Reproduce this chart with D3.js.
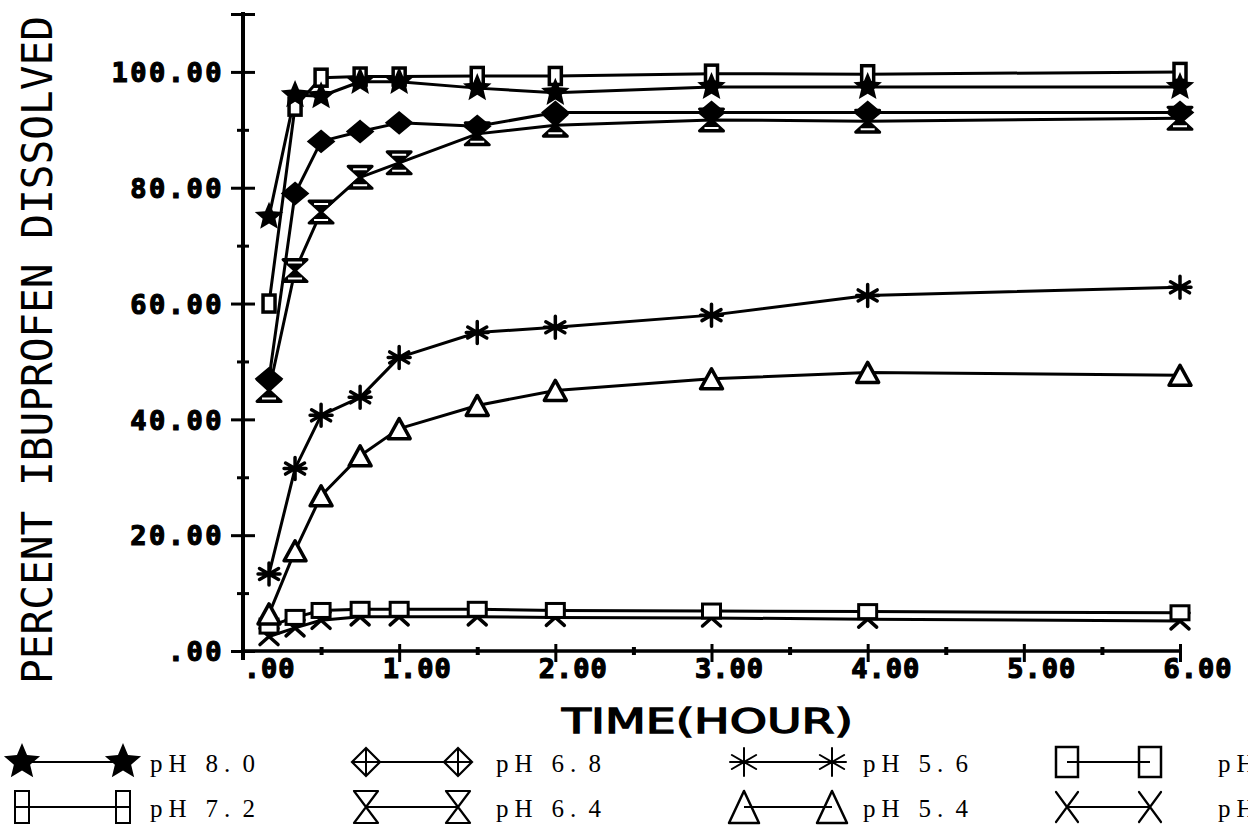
<!DOCTYPE html>
<html>
<head>
<meta charset="utf-8">
<script src="https://cdn.jsdelivr.net/npm/d3@7"></script>
<style>
  body { margin: 0; background: #fff; }
  svg { display: block; }
</style>
</head>
<body>
<script>
// sampling times (hours)
const times = [1/6, 1/3, 0.5, 0.75, 1, 1.5, 2, 3, 4, 6];

// percent dissolved
const ph80 = [75.0, 96.0, 95.8, 98.3, 98.3, 97.2, 96.4, 97.4, 97.4, 97.4];
const ph72 = [60.0, 94.0, 99.0, 99.2, 99.2, 99.3, 99.3, 99.7, 99.6, 100.0];
const ph68 = [47.0, 79.0, 88.0, 89.7, 91.2, 90.6, 93.0, 93.0, 93.0, 93.0];
const ph64 = [45.0, 65.7, 75.8, 81.8, 84.3, 89.3, 90.8, 91.7, 91.5, 92.0];
const ph56 = [13.3, 31.5, 40.7, 43.8, 50.7, 55.0, 55.9, 58.0, 61.4, 62.8];
const ph54 = [6.4, 17.3, 26.8, 33.7, 38.4, 42.4, 45.0, 47.0, 48.1, 47.6];
const phSq = [4.3, 5.8, 7.0, 7.2, 7.2, 7.2, 7.0, 6.9, 6.8, 6.6];
const phX  = [2.5, 4.0, 5.3, 5.9, 5.9, 5.9, 5.8, 5.7, 5.5, 5.2];

// legend text (last column is cut off at the page edge, as in the original)
const legendLabels = ["pH 8.0", "pH 6.8", "pH 5.6", "pH", "pH 7.2", "pH 6.4", "pH 5.4", "pH"];

const yTicks = [0, 10, 20, 30, 40, 50, 60, 70, 80, 90, 100, 110];
const xTicks = [0.5, 1, 1.5, 2, 2.5, 3, 3.5, 4, 4.5, 5, 5.5, 6];

const series = [
  { values: ph80, marker: "star" },
  { values: ph72, marker: "rect" },
  { values: ph68, marker: "diamond" },
  { values: ph64, marker: "hourglass" },
  { values: ph56, marker: "asterisk" },
  { values: ph54, marker: "triangle" },
  { values: phSq, marker: "square" },
  { values: phX,  marker: "cross" }
];

const width = 1248, height = 830;
const svg = d3.select("body").append("svg")
  .attr("width", width)
  .attr("height", height);

const x = d3.scaleLinear().domain([0, 6]).range([243, 1180]);
const y = d3.scaleLinear().domain([0, 110]).range([651, 14]);

const fmt = d => d3.format(".2f")(d).replace(/^0\./, ".");

// ---- y axis
const yAxis = svg.append("g")
  .attr("transform", "translate(243,0)")
  .call(d3.axisLeft(y).tickValues(yTicks).tickSize(0)
    .tickFormat(d => (d % 20 === 0 && d <= 100) ? fmt(d) : ""));
yAxis.select(".domain").remove();
yAxis.append("line")
  .attr("x1", 0).attr("x2", 0)
  .attr("y1", 12).attr("y2", 660)
  .attr("stroke", "#000").attr("stroke-width", 4);
yAxis.selectAll(".tick line")
  .attr("x1", d => (d % 20 === 0 || d === 110) ? -12 : -6)
  .attr("x2", d => (d % 20 === 0 || d === 110) ? 12 : 6)
  .attr("stroke", "#000").attr("stroke-width", 3);
yAxis.selectAll(".tick text")
  .attr("x", -19).attr("dy", "0.36em")
  .attr("font-family", "DejaVu Sans Mono").attr("font-weight", "bold")
  .attr("font-size", 27).attr("letter-spacing", 2.5)
  .attr("stroke", "#000").attr("stroke-width", 1.2)
  .attr("fill", "#000");

// ---- x axis
const xAxis = svg.append("g")
  .attr("transform", "translate(0,651)")
  .call(d3.axisBottom(x).tickValues([0].concat(xTicks)).tickSize(0).tickFormat(fmt));
xAxis.select(".domain").remove();
xAxis.append("line")
  .attr("x1", 243).attr("x2", 1182)
  .attr("y1", 0).attr("y2", 0)
  .attr("stroke", "#000").attr("stroke-width", 3.5);
xAxis.selectAll(".tick line")
  .attr("y1", d => d % 1 === 0 ? -7 : -4)
  .attr("y2", d => d % 1 === 0 ? 11 : 4)
  .attr("stroke", "#000").attr("stroke-width", d => d % 1 === 0 ? 3 : 4)
  .attr("opacity", d => d === 0 ? 0 : 1);
xAxis.selectAll(".tick text")
  .text(d => d % 1 === 0 ? fmt(d) : "")
  .attr("text-anchor", "end")
  .attr("x", 52).attr("y", 27).attr("dy", 0)
  .attr("font-family", "DejaVu Sans Mono").attr("font-weight", "bold")
  .attr("font-size", 27).attr("letter-spacing", 1)
  .attr("stroke", "#000").attr("stroke-width", 1.2)
  .attr("fill", "#000");

// ---- axis titles
svg.append("text")
  .attr("transform", "translate(52,350) rotate(-90)")
  .attr("text-anchor", "middle")
  .attr("font-family", "DejaVu Sans Mono")
  .attr("font-size", 42)
  .attr("textLength", 668).attr("lengthAdjust", "spacingAndGlyphs")
  .text("PERCENT IBUPROFEN DISSOLVED");

svg.append("text")
  .attr("x", 562).attr("y", 733)
  .attr("font-family", "DejaVu Sans")
  .attr("font-size", 33)
  .attr("stroke", "#000").attr("stroke-width", 1.3)
  .attr("textLength", 291).attr("lengthAdjust", "spacingAndGlyphs")
  .text("TIME(HOUR)");

// ---- markers
function starPath(r) {
  const pts = [];
  for (let i = 0; i < 10; i++) {
    const a = -Math.PI / 2 + i * Math.PI / 5;
    const rr = i % 2 === 0 ? r : r * 0.45;
    pts.push([rr * Math.cos(a), rr * Math.sin(a)]);
  }
  return "M" + pts.map(p => p.join(",")).join("L") + "Z";
}

function drawMarker(g, type, legend) {
  const sw = legend ? 2.2 : 3;
  const fill = legend ? "none" : "#fff";
  if (type === "star") {
    g.append("path").attr("d", starPath(legend ? 19 : 15)).attr("fill", "#000");
  } else if (type === "rect") {
    const w = legend ? 14 : 12, h = legend ? 32 : 17;
    g.append("rect").attr("x", -w / 2).attr("y", -h / 2).attr("width", w).attr("height", h)
      .attr("fill", fill).attr("stroke", "#000").attr("stroke-width", legend ? 2 : 3.5);
    if (legend) g.append("line").attr("x1", -w / 2).attr("x2", w / 2)
      .attr("stroke", "#000").attr("stroke-width", 2);
  } else if (type === "diamond") {
    const a = legend ? 14 : 12, b = legend ? 14 : 10;
    g.append("path").attr("d", `M0,${-b}L${a},0L0,${b}L${-a},0Z`)
      .attr("fill", legend ? "none" : "#000").attr("stroke", "#000").attr("stroke-width", sw);
    if (legend) g.append("path").attr("d", `M0,${-b}V${b}M${-a},0H${a}`)
      .attr("stroke", "#000").attr("stroke-width", 2);
  } else if (type === "hourglass") {
    const a = 12, b = legend ? 16 : 11;
    g.append("path").attr("d", `M${-a},${-b}L${a},${-b}L${-a},${b}L${a},${b}Z`)
      .attr("fill", legend ? "none" : "#000").attr("stroke", "#000")
      .attr("stroke-width", sw).attr("stroke-linejoin", "round");
    if (!legend) g.append("path").attr("d", `M${-a + 5},${-b + 3}H${a - 5}M${-a + 5},${b - 3}H${a - 5}`)
      .attr("stroke", "#fff").attr("stroke-width", 2);
  } else if (type === "asterisk") {
    const r = legend ? 14 : 11;
    const d = [90, 30, 150, 0].map(a => {
      const c = Math.cos(a * Math.PI / 180) * r, s = Math.sin(a * Math.PI / 180) * r;
      return `M${-c},${-s}L${c},${s}`;
    }).join("");
    g.append("path").attr("d", d).attr("stroke", "#000")
      .attr("stroke-width", legend ? 2 : 3.5).attr("stroke-linecap", "round");
  } else if (type === "triangle") {
    const a = legend ? 15 : 11, b = legend ? 16 : 10;
    g.append("path").attr("d", `M0,${-b}L${a},${b}L${-a},${b}Z`)
      .attr("fill", fill).attr("stroke", "#000").attr("stroke-width", legend ? 2.5 : 3.5)
      .attr("stroke-linejoin", "round");
  } else if (type === "square") {
    const w = legend ? 22 : 18, h = legend ? 30 : 14;
    g.append("rect").attr("x", -w / 2).attr("y", -h / 2).attr("width", w).attr("height", h)
      .attr("fill", fill).attr("stroke", "#000").attr("stroke-width", legend ? 2.5 : 3);
  } else if (type === "cross") {
    const a = legend ? 11 : 9, b = legend ? 15 : 8;
    g.append("path").attr("d", `M${-a},${-b}L${a},${b}M${a},${-b}L${-a},${b}`)
      .attr("stroke", "#000").attr("stroke-width", legend ? 2.2 : 3.5)
      .attr("stroke-linecap", "round");
  }
}

// ---- series lines and markers
const line = d3.line()
  .x(d => x(d[0]))
  .y(d => y(d[1]));

const plot = svg.append("g");
series.forEach(s => {
  const pts = times.map((t, i) => [t, s.values[i]]);
  plot.append("path")
    .datum(pts)
    .attr("d", line)
    .attr("fill", "none")
    .attr("stroke", "#000")
    .attr("stroke-width", 3)
    .attr("stroke-linejoin", "round");
});
// markers after all lines
series.slice().reverse().forEach(s => {
  times.forEach((t, i) => {
    const g = plot.append("g")
      .attr("transform", `translate(${x(t)},${y(s.values[i])})`);
    drawMarker(g, s.marker, false);
  });
});

// ---- legend
const legendOrder = ["star", "diamond", "asterisk", "square", "rect", "hourglass", "triangle", "cross"];
const colStart = [22, 366, 744, 1067];
const colEnd   = [123, 458, 832, 1150];
const colText  = [150, 496, 863, 1218];
const rowY = [762, 807];

legendOrder.forEach((m, i) => {
  const col = i % 4, row = Math.floor(i / 4);
  const ly = rowY[row];
  const g = svg.append("g");
  g.append("line")
    .attr("x1", colStart[col]).attr("x2", colEnd[col])
    .attr("y1", ly).attr("y2", ly)
    .attr("stroke", "#000").attr("stroke-width", 2);
  [colStart[col], colEnd[col]].forEach(cx => {
    drawMarker(g.append("g").attr("transform", `translate(${cx},${ly})`), m, true);
  });
  const label = legendLabels[i];
  g.append("text")
    .attr("x", label.split("").map((c, j) => colText[col] + j * 18.5).join(" "))
    .attr("y", ly + 10)
    .attr("font-family", "Liberation Serif")
    .attr("font-size", 25)
    .attr("fill", "#000")
    .text(label);
});
</script>
</body>
</html>
